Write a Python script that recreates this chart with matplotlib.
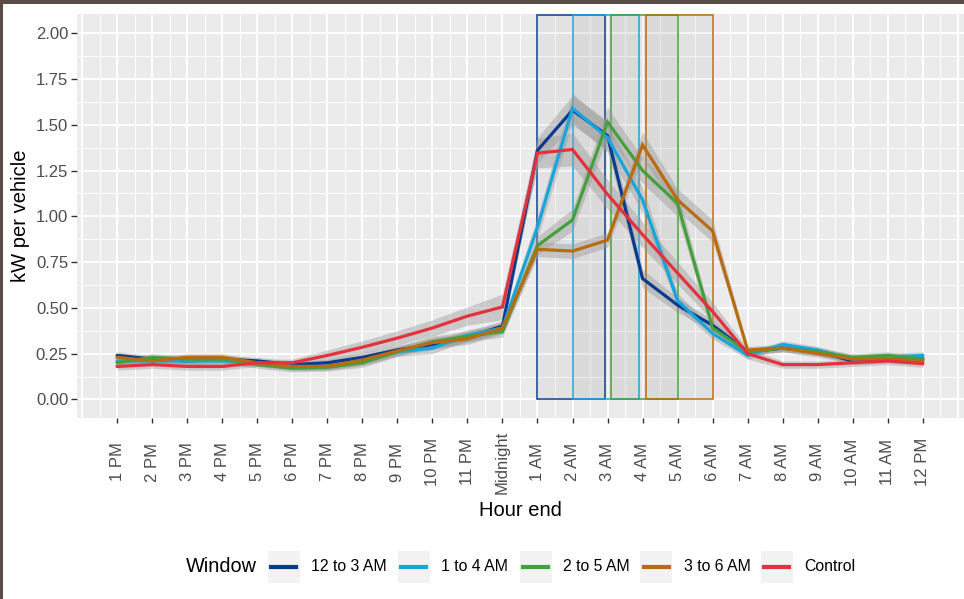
#!/usr/bin/env python3

import numpy as np
import matplotlib
import matplotlib.pyplot as plt
from matplotlib.patches import Rectangle
from matplotlib.lines import Line2D

matplotlib.use('Agg')
plt.rcParams['font.family'] = ['Liberation Sans', 'DejaVu Sans']

# Hour end labels (1 PM .. 12 PM)
hour_labels = ["1 PM", "2 PM", "3 PM", "4 PM", "5 PM", "6 PM", "7 PM", "8 PM",
               "9 PM", "10 PM", "11 PM", "Midnight", "1 AM", "2 AM", "3 AM",
               "4 AM", "5 AM", "6 AM", "7 AM", "8 AM", "9 AM", "10 AM",
               "11 AM", "12 PM"]

series_names = ["12 to 3 AM", "1 to 4 AM", "2 to 5 AM", "3 to 6 AM", "Control"]
series_colors = ["#083b8e", "#17a5de", "#43a03c", "#b96b0f", "#e5313d"]

kw_12to3 = [0.24, 0.22, 0.21, 0.22, 0.21, 0.19, 0.20, 0.23, 0.27, 0.30, 0.34, 0.40,
            1.36, 1.58, 1.44, 0.66, 0.515, 0.405, 0.26, 0.28, 0.26, 0.21, 0.22, 0.22]
kw_1to4 = [0.21, 0.21, 0.21, 0.21, 0.20, 0.18, 0.18, 0.21, 0.26, 0.28, 0.35, 0.39,
           0.94, 1.59, 1.43, 1.09, 0.54, 0.36, 0.24, 0.30, 0.27, 0.22, 0.23, 0.24]
kw_2to5 = [0.20, 0.23, 0.22, 0.22, 0.19, 0.17, 0.175, 0.20, 0.26, 0.315, 0.345, 0.37,
           0.84, 0.98, 1.515, 1.25, 1.07, 0.39, 0.26, 0.28, 0.26, 0.23, 0.24, 0.22]
kw_3to6 = [0.23, 0.21, 0.23, 0.23, 0.20, 0.18, 0.18, 0.215, 0.265, 0.31, 0.33, 0.39,
           0.82, 0.81, 0.87, 1.39, 1.09, 0.92, 0.27, 0.28, 0.25, 0.22, 0.22, 0.21]
kw_control = [0.18, 0.19, 0.18, 0.18, 0.20, 0.20, 0.24, 0.285, 0.335, 0.39, 0.455, 0.505,
              1.345, 1.365, 1.12, 0.90, 0.69, 0.48, 0.25, 0.19, 0.19, 0.20, 0.21, 0.195]

# ribbon half widths
se_12to3 = [0.02, 0.02, 0.02, 0.02, 0.02, 0.02, 0.02, 0.025, 0.025, 0.03, 0.03, 0.03,
            0.07, 0.08, 0.08, 0.05, 0.04, 0.03, 0.02, 0.02, 0.02, 0.02, 0.02, 0.02]
se_1to4 = [0.02, 0.02, 0.02, 0.02, 0.02, 0.02, 0.02, 0.025, 0.025, 0.03, 0.03, 0.03,
           0.06, 0.08, 0.08, 0.07, 0.04, 0.03, 0.02, 0.02, 0.02, 0.02, 0.02, 0.02]
se_2to5 = [0.02, 0.02, 0.02, 0.02, 0.02, 0.02, 0.02, 0.025, 0.025, 0.03, 0.03, 0.03,
           0.05, 0.06, 0.08, 0.07, 0.07, 0.03, 0.02, 0.02, 0.02, 0.02, 0.02, 0.02]
se_3to6 = [0.02, 0.02, 0.02, 0.02, 0.02, 0.02, 0.02, 0.025, 0.025, 0.03, 0.03, 0.03,
           0.04, 0.04, 0.04, 0.07, 0.06, 0.06, 0.02, 0.02, 0.02, 0.02, 0.02, 0.02]
se_control = [0.02, 0.02, 0.02, 0.02, 0.02, 0.02, 0.03, 0.035, 0.04, 0.045, 0.05, 0.07,
              0.08, 0.09, 0.08, 0.07, 0.06, 0.05, 0.03, 0.02, 0.02, 0.02, 0.02, 0.02]

# charging windows, in hour index units (1 PM = 1)
window_start = [13, 14, 15.1, 16.1]
window_end = [14.93, 15.9, 17, 18]
window_top = 2.1

series_values = [kw_12to3, kw_1to4, kw_2to5, kw_3to6, kw_control]
series_se = [se_12to3, se_1to4, se_2to5, se_3to6, se_control]

W, H = 964, 599
fig = plt.figure(figsize=(W / 100, H / 100), dpi=100)

# dark screenshot frame at top and left
fig.patches.append(Rectangle((0, 1 - 4 / H), 1, 4 / H, transform=fig.transFigure,
                             facecolor="#574c47", edgecolor="none"))
fig.patches.append(Rectangle((0, 0), 3 / W, 1, transform=fig.transFigure,
                             facecolor="#574c47", edgecolor="none"))

left, right, top, bottom = 77.3, 964, 14, 417.7
ax = fig.add_axes([left / W, 1 - bottom / H, (right - left) / W, (bottom - top) / H])
ax.set_facecolor("#ebebeb")
for s in ax.spines.values():
    s.set_visible(False)

x = np.arange(1, len(hour_labels) + 1)

# grid
for gx in np.arange(0, 26, 1):
    ax.axvline(gx, color="white", lw=1.4, zorder=0.5)
for gx in np.arange(-0.5, 26, 1):
    ax.axvline(gx, color="white", lw=0.7, zorder=0.5)
for gy in np.arange(0, 2.01, 0.25):
    ax.axhline(gy, color="white", lw=1.4, zorder=0.5)
for gy in np.arange(0.125, 2.1, 0.25):
    ax.axhline(gy, color="white", lw=0.7, zorder=0.5)

# window rectangles
for xs, xe, c in zip(window_start, window_end, series_colors[:4]):
    ax.add_patch(Rectangle((xs, 0), xe - xs, window_top, facecolor=(0.5, 0.5, 0.5, 0.08),
                           edgecolor=c, lw=1.1, zorder=1))

# ribbons and lines
for vals, se in zip(series_values, series_se):
    v = np.array(vals)
    e = np.array(se)
    ax.fill_between(x, v - e, v + e, color="#999999", alpha=0.42, lw=0, zorder=2)
for vals, c in zip(series_values, series_colors):
    ax.plot(x, vals, color=c, lw=2.3, zorder=3, solid_joinstyle="miter")

ax.set_xlim(-0.142, 25.18)
ax.set_ylim(-0.1, 2.105)
ax.set_xticks(x)
ax.set_xticklabels(hour_labels, rotation=90)
ax.set_yticks(np.arange(0, 2.01, 0.25))
ax.set_yticklabels([f"{v:.2f}" for v in np.arange(0, 2.01, 0.25)])
ax.tick_params(axis="x", length=3.6, width=1.0, color="#333333", labelcolor="#4d4d4d",
               labelsize=12, pad=28.3)
ax.tick_params(axis="y", length=4.0, width=1.0, color="#333333", labelcolor="#4d4d4d",
               labelsize=12, pad=2.6)
for lbl in ax.get_xticklabels():
    lbl.set_va("center")

ax.set_xlabel("Hour end", fontsize=14.5, color="black")
ax.xaxis.set_label_coords(0.5, (bottom - 510) / (bottom - top))
ax.xaxis.label.set_va("center")
ax.set_ylabel("kW per vehicle", fontsize=14.5, color="black")
ax.yaxis.set_label_coords((21 - left) / (right - left), 0.5)
ax.yaxis.label.set_va("center")

# legend, drawn by hand to get the ggplot bottom layout
ly = 566.7
fig.text(186 / W, 1 - ly / H, "Window", fontsize=14.3, va="center", ha="left")
key_x = [267.7, 397.7, 519.5, 640, 760.7]
key_size = 32
for kx, name, c in zip(key_x, series_names, series_colors):
    fig.patches.append(Rectangle((kx / W, 1 - (ly + key_size / 2) / H), key_size / W, key_size / H,
                                 transform=fig.transFigure, facecolor="#f2f2f2", edgecolor="none"))
    fig.add_artist(Line2D([(kx + 3.5) / W, (kx + key_size - 3.5) / W], [1 - ly / H, 1 - ly / H],
                          transform=fig.transFigure, color=c, lw=3.0))
    fig.text((kx + key_size + 11.5) / W, 1 - ly / H, name, fontsize=11.4, va="center", ha="left")

fig.savefig("out.png", dpi=100)
